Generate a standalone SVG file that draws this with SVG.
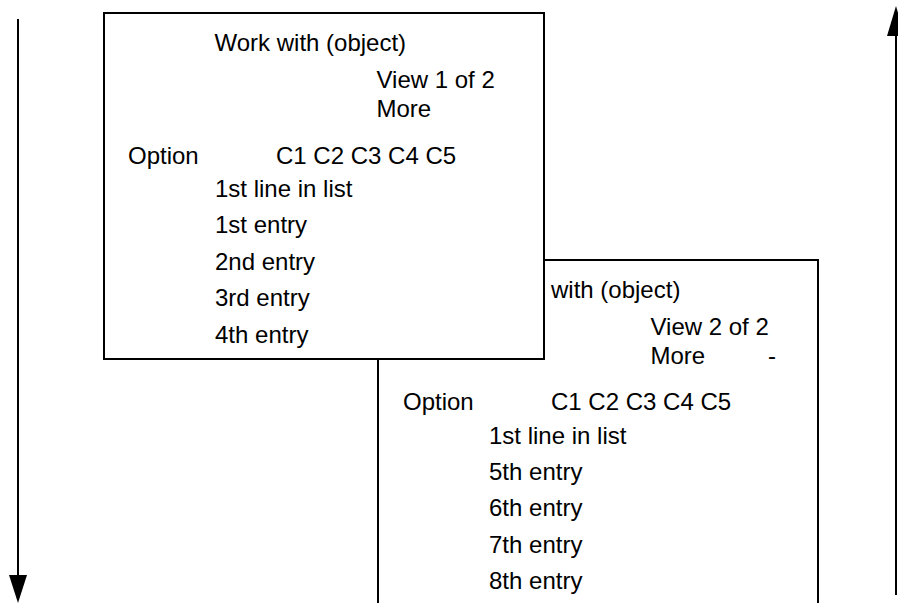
<svg xmlns="http://www.w3.org/2000/svg" width="898" height="603" viewBox="0 0 898 603">
<style>
.box{fill:#fff;stroke:#000;stroke-width:2}
.t{font-family:"Liberation Sans",Arial,sans-serif;font-size:24px;fill:#000}
.ln{stroke:#000;stroke-width:2;fill:none}
</style>
<defs>
<marker id="ah" markerWidth="18" markerHeight="28" refX="0" refY="9" orient="auto" markerUnits="userSpaceOnUse" viewBox="0 0 28 18">
<path d="M0,0 L28,9 L0,18 Z" fill="#000"/>
</marker>
</defs>
<rect width="898" height="603" fill="#fff"/>
<g id="connectors">
<path class="ln" d="M18,19 V575"/>
<polygon points="9,575 27,575 18,603" fill="#000"/>
<path class="ln" d="M896,595 V36"/>
<polygon points="887,36 905,36 896,6" fill="#000"/>
</g>
<g id="view2">
<rect class="box" x="378" y="260" width="440" height="360"/>
<text class="t" x="551" y="298">with (object)</text>
<text class="t" x="650.5" y="335">View 2 of 2</text>
<text class="t" x="650.5" y="364">More<tspan x="768">-</tspan></text>
<text class="t" x="403" y="410">Option</text>
<text class="t" x="551" y="410">C1 C2 C3 C4 C5</text>
<text class="t" x="489" y="443.5">1st line in list</text>
<text class="t" x="489" y="479.5">5th entry</text>
<text class="t" x="489" y="516">6th entry</text>
<text class="t" x="489" y="552.5">7th entry</text>
<text class="t" x="489" y="589">8th entry</text>
</g>
<g id="view1">
<rect class="box" x="104" y="13" width="440" height="346"/>
<text class="t" x="214.5" y="51">Work with (object)</text>
<text class="t" x="376.5" y="88">View 1 of 2</text>
<text class="t" x="376.5" y="117">More</text>
<text class="t" x="128" y="164">Option</text>
<text class="t" x="276" y="164">C1 C2 C3 C4 C5</text>
<text class="t" x="215" y="196.5">1st line in list</text>
<text class="t" x="215" y="233">1st entry</text>
<text class="t" x="215" y="269.5">2nd entry</text>
<text class="t" x="215" y="306">3rd entry</text>
<text class="t" x="215" y="342.5">4th entry</text>
</g>
</svg>
